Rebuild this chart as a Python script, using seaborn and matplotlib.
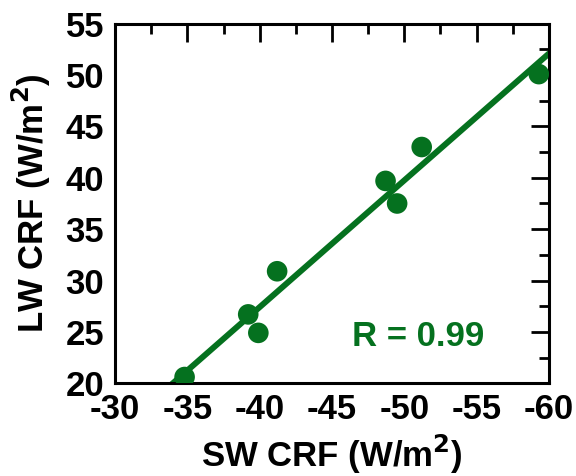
import matplotlib
matplotlib.use("Agg")
import matplotlib.pyplot as plt
from matplotlib.ticker import MultipleLocator
import seaborn as sns
import pandas as pd

# values
sw_crf = [-34.8, -39.2, -39.9, -41.2, -48.7, -49.5, -51.2, -59.3]
lw_crf = [20.6, 26.7, 24.9, 30.9, 39.7, 37.5, 43.0, 50.1]
r_label = "R = 0.99"

green = "#05711f"

sns.set_style("white")
plt.rcParams["font.family"] = ["Liberation Sans", "DejaVu Sans"]
plt.rcParams["font.weight"] = "bold"
plt.rcParams["axes.unicode_minus"] = False
plt.rcParams["text.color"] = "black"
plt.rcParams["axes.labelcolor"] = "black"
plt.rcParams["xtick.color"] = "black"
plt.rcParams["ytick.color"] = "black"

df = pd.DataFrame({"sw": sw_crf, "lw": lw_crf})

fig = plt.figure(figsize=(5.76, 4.76), dpi=100)
ax = fig.add_axes([0.2, 0.195, 0.753, 0.755])

ax.set_xlim(-30, -60)
ax.set_ylim(20, 55)

# least-squares line across the whole axis, then the points on top
sns.regplot(data=df, x="sw", y="lw", ax=ax, ci=None, truncate=False,
            scatter=False, color=green, line_kws={"lw": 4.3})
sns.scatterplot(data=df, x="sw", y="lw", ax=ax, color=green, s=220,
                edgecolor="none", zorder=3)
ax.set_xlim(-30, -60)
ax.set_ylim(20, 55)

ax.text(-46.4, 24.5, r_label, color=green, fontsize=25, fontweight="bold",
        va="center", ha="left")

ax.xaxis.set_major_locator(MultipleLocator(5))
ax.xaxis.set_minor_locator(MultipleLocator(2.5))
ax.yaxis.set_major_locator(MultipleLocator(5))
ax.yaxis.set_minor_locator(MultipleLocator(2.5))
ax.tick_params(which="both", direction="in", top=True, right=True,
               width=2, labelsize=25)
ax.tick_params(axis="x", pad=7)
ax.tick_params(axis="y", pad=8)
ax.tick_params(which="major", length=13)
ax.tick_params(which="minor", length=7)
for s in ax.spines.values():
    s.set_linewidth(2.2)
    s.set_color("black")
for lab in ax.get_xticklabels() + ax.get_yticklabels():
    lab.set_fontweight("bold")

ax.set_xlabel("SW CRF (W/m$^\\mathbf{2}$)", fontsize=25, fontweight="bold", labelpad=5)
ax.set_ylabel("LW CRF (W/m$^\\mathbf{2}$)", fontsize=25, fontweight="bold", labelpad=9)

fig.savefig("out.png", dpi=100)
